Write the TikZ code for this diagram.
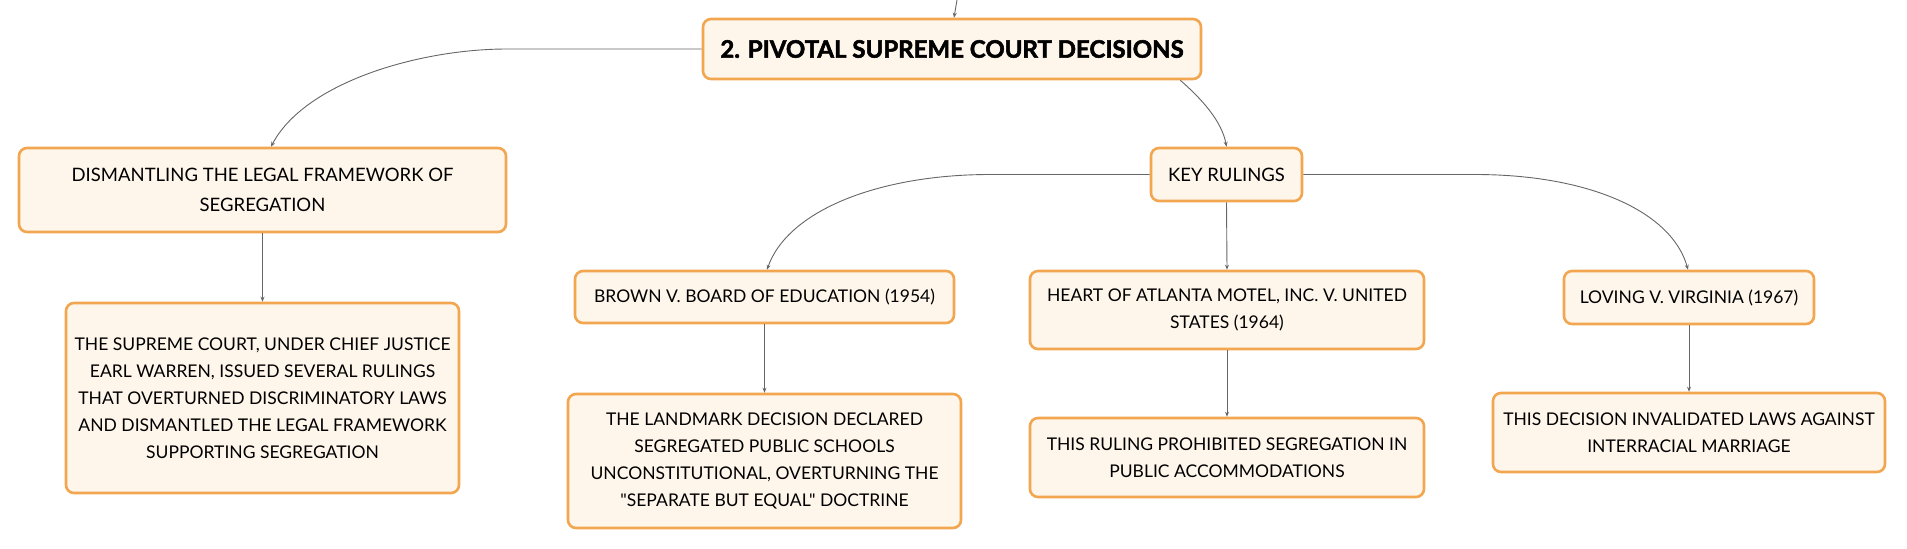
\documentclass[tikz,border=0pt]{standalone}
\usepackage{fontspec}
\setmainfont{Lato}
\newfontfamily\plainlato{Lato}[Ligatures=TeXOff]
\usetikzlibrary{arrows.meta,calc}
\definecolor{boxfill}{HTML}{FEF5EB}
\definecolor{boxline}{HTML}{F2A64F}
\definecolor{conncol}{HTML}{666666}
\begin{document}
\begin{tikzpicture}[x=1pt,y=-1pt,
  box/.style={draw=boxline,fill=boxfill,line width=2.6pt,rounded corners=8pt,
    inner sep=0pt,align=center,text=black,font=\fontsize{17.5}{27}\selectfont},
  conn/.style={draw=conncol,line width=0.9pt,-{Stealth[length=5pt,width=4pt]}}]
\useasboundingbox (0,0) rectangle (1907,549);
\node[box,minimum width=498pt,minimum height=60pt,font=\fontsize{24}{30}\selectfont\bfseries\addfontfeature{FakeBold=2.2}] (main) at (952,49) {2. PIVOTAL SUPREME COURT DECISIONS};
\node[box,minimum width=487pt,minimum height=84pt,font=\fontsize{18.5}{30}\selectfont] (dism) at (262.5,190) {DISMANTLING THE LEGAL FRAMEWORK OF\\SEGREGATION};
\node[box,minimum width=393pt,minimum height=190pt] (sup) at (262.5,398) {THE SUPREME COURT, UNDER CHIEF JUSTICE\\EARL WARREN, ISSUED SEVERAL RULINGS\\THAT OVERTURNED DISCRIMINATORY LAWS\\AND DISMANTLED THE LEGAL FRAMEWORK\\SUPPORTING SEGREGATION};
\node[box,minimum width=151pt,minimum height=53pt,font=\fontsize{18.5}{27}\selectfont] (key) at (1226.5,174.5) {KEY RULINGS};
\node[box,minimum width=379pt,minimum height=52pt] (brown) at (764.5,297) {BROWN V. BOARD OF EDUCATION (1954)};
\node[box,minimum width=394pt,minimum height=78pt] (heart) at (1227,310) {HEART OF ATLANTA MOTEL, INC. V. UNITED\\STATES (1964)};
\node[box,minimum width=250pt,minimum height=53pt] (loving) at (1689,297.5) {LOVING V. VIRGINIA (1967)};
\node[box,minimum width=393pt,minimum height=134pt] (land) at (764.5,461) {THE LANDMARK DECISION DECLARED\\SEGREGATED PUBLIC SCHOOLS\\UNCONSTITUTIONAL, OVERTURNING THE\\{\plainlato"SEPARATE BUT EQUAL"} DOCTRINE};
\node[box,minimum width=394pt,minimum height=79pt] (rul) at (1227,457.5) {THIS RULING PROHIBITED SEGREGATION IN\\PUBLIC ACCOMMODATIONS};
\node[box,minimum width=392pt,minimum height=79pt] (dec) at (1689,432.5) {THIS DECISION INVALIDATED LAWS AGAINST\\INTERRACIAL MARRIAGE};
\coordinate (top) at (957,0);
\draw[conn] (top) -- ([xshift=2pt]main.north);
\draw[conn] (main.west) -- (507,49) .. controls (420,49) and (305,82) .. ([xshift=8.5pt]dism.north);
\draw[conn] ([xshift=-22pt]main.south east) .. controls (1203,100) and (1222,122) .. (key.north);
\draw[conn] (key.west) -- (990,174.5) .. controls (880,174.5) and (788,210) .. ([xshift=2.5pt]brown.north);
\draw[conn] (key.east) -- (1475,174.5) .. controls (1590,174.5) and (1672,212) .. ([xshift=-1pt]loving.north);
\draw[conn] (key.south) -- (heart.north);
\draw[conn] (dism.south) -- (sup.north);
\draw[conn] (brown.south) -- (land.north);
\draw[conn] (heart.south) -- (rul.north);
\draw[conn] (loving.south) -- (dec.north);
\end{tikzpicture}
\end{document}
